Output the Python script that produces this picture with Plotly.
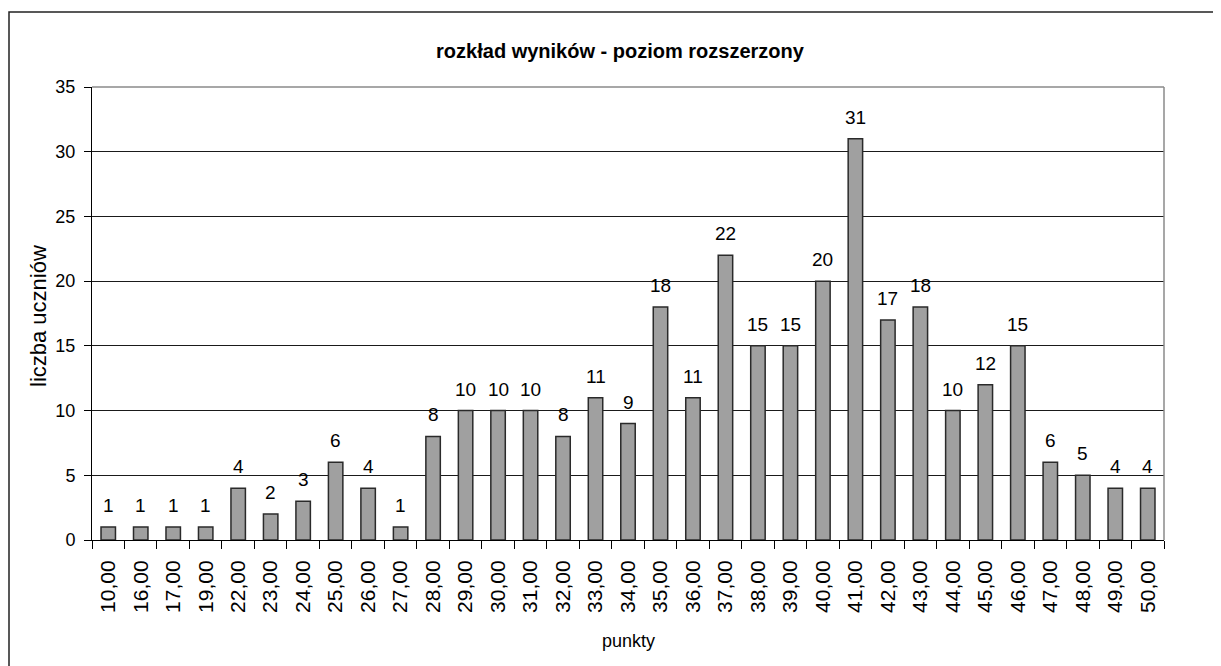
import plotly.graph_objects as go

categories = ["10,00", "16,00", "17,00", "19,00", "22,00", "23,00", "24,00", "25,00", "26,00", "27,00",
              "28,00", "29,00", "30,00", "31,00", "32,00", "33,00", "34,00", "35,00", "36,00", "37,00",
              "38,00", "39,00", "40,00", "41,00", "42,00", "43,00", "44,00", "45,00", "46,00", "47,00",
              "48,00", "49,00", "50,00"]
counts = [1, 1, 1, 1, 4, 2, 3, 6, 4, 1,
          8, 10, 10, 10, 8, 11, 9, 18, 11, 22,
          15, 15, 20, 31, 17, 18, 10, 12, 15, 6,
          5, 4, 4]
y_ticks = [0, 5, 10, 15, 20, 25, 30, 35]

FONT = "Liberation Sans, Arial, sans-serif"

W, H = 1213, 658
L, R, T, B = 84, 57, 79, 126
PW, PH = W - L - R, H - T - B

fig = go.Figure(go.Bar(
    x=categories, y=counts,
    marker=dict(color="#A0A0A0", line=dict(color="#2a2a2a", width=1.5)),
    hoverinfo="x+y",
))

# value labels above bars
for c, v in zip(categories, counts):
    fig.add_annotation(x=c, y=v, xref="x", yref="y", text=str(v), showarrow=False,
                       yanchor="bottom", xanchor="center", yshift=9,
                       font=dict(family=FONT, size=19, color="black"))

fig.update_layout(
    width=W, height=H,
    margin=dict(l=L, r=R, t=T, b=B),
    paper_bgcolor="white", plot_bgcolor="white",
    bargap=0.555,
    showlegend=False,
    title=dict(text="<b>rozkład wyników - poziom rozszerzony</b>", xref="container",
               x=612 / W, xanchor="center",
               y=1 - 43 / H, yanchor="middle",
               font=dict(family=FONT, size=20, color="black")),
    font=dict(family=FONT, size=18, color="black"),
)

fig.update_xaxes(
    type="category", tickangle=-90, tickson="boundaries",
    ticks="outside", ticklen=8, tickcolor="black",
    showline=True, linecolor="black", linewidth=1,
    showgrid=False,
    ticklabelstandoff=11,
    tickfont=dict(family=FONT, size=21, color="black"),
)
fig.update_yaxes(
    range=[0, 35], tickvals=y_ticks,
    ticks="outside", ticklen=7, tickcolor="black",
    showline=True, linecolor="black", linewidth=1,
    showgrid=True, gridcolor="#1a1a1a", gridwidth=1,
    zeroline=False,
    ticklabelstandoff=5,
    tickfont=dict(family=FONT, size=18, color="black"),
)

# axis titles
fig.add_annotation(text="punkty", xref="paper", yref="paper", x=0.5, y=(T + PH - 633) / PH,
                   showarrow=False, xanchor="center", yanchor="middle",
                   font=dict(family=FONT, size=18, color="black"))
fig.add_annotation(text="liczba uczniów", xref="paper", yref="paper", x=(30 - L) / PW,
                   y=(T + PH - 308) / PH, textangle=-90,
                   showarrow=False, xanchor="center", yanchor="middle",
                   font=dict(family=FONT, size=22, color="black"))

# plot area border (top and right, gray)
fig.add_shape(type="line", xref="paper", yref="paper", x0=0, x1=1, y0=1, y1=1,
              line=dict(color="#8a8a8a", width=1.5), layer="above")
fig.add_shape(type="line", xref="paper", yref="paper", x0=1, x1=1, y0=0, y1=1,
              line=dict(color="#8a8a8a", width=1.5), layer="above")
# outer chart border
fig.add_shape(type="rect", xref="paper", yref="paper",
              x0=(1 - L) / PW, x1=(1230 - L) / PW,
              y0=(T + PH - 670) / PH, y1=(T + PH - 4) / PH,
              line=dict(color="#222222", width=1.5), layer="below")

fig.write_html("out.html")
